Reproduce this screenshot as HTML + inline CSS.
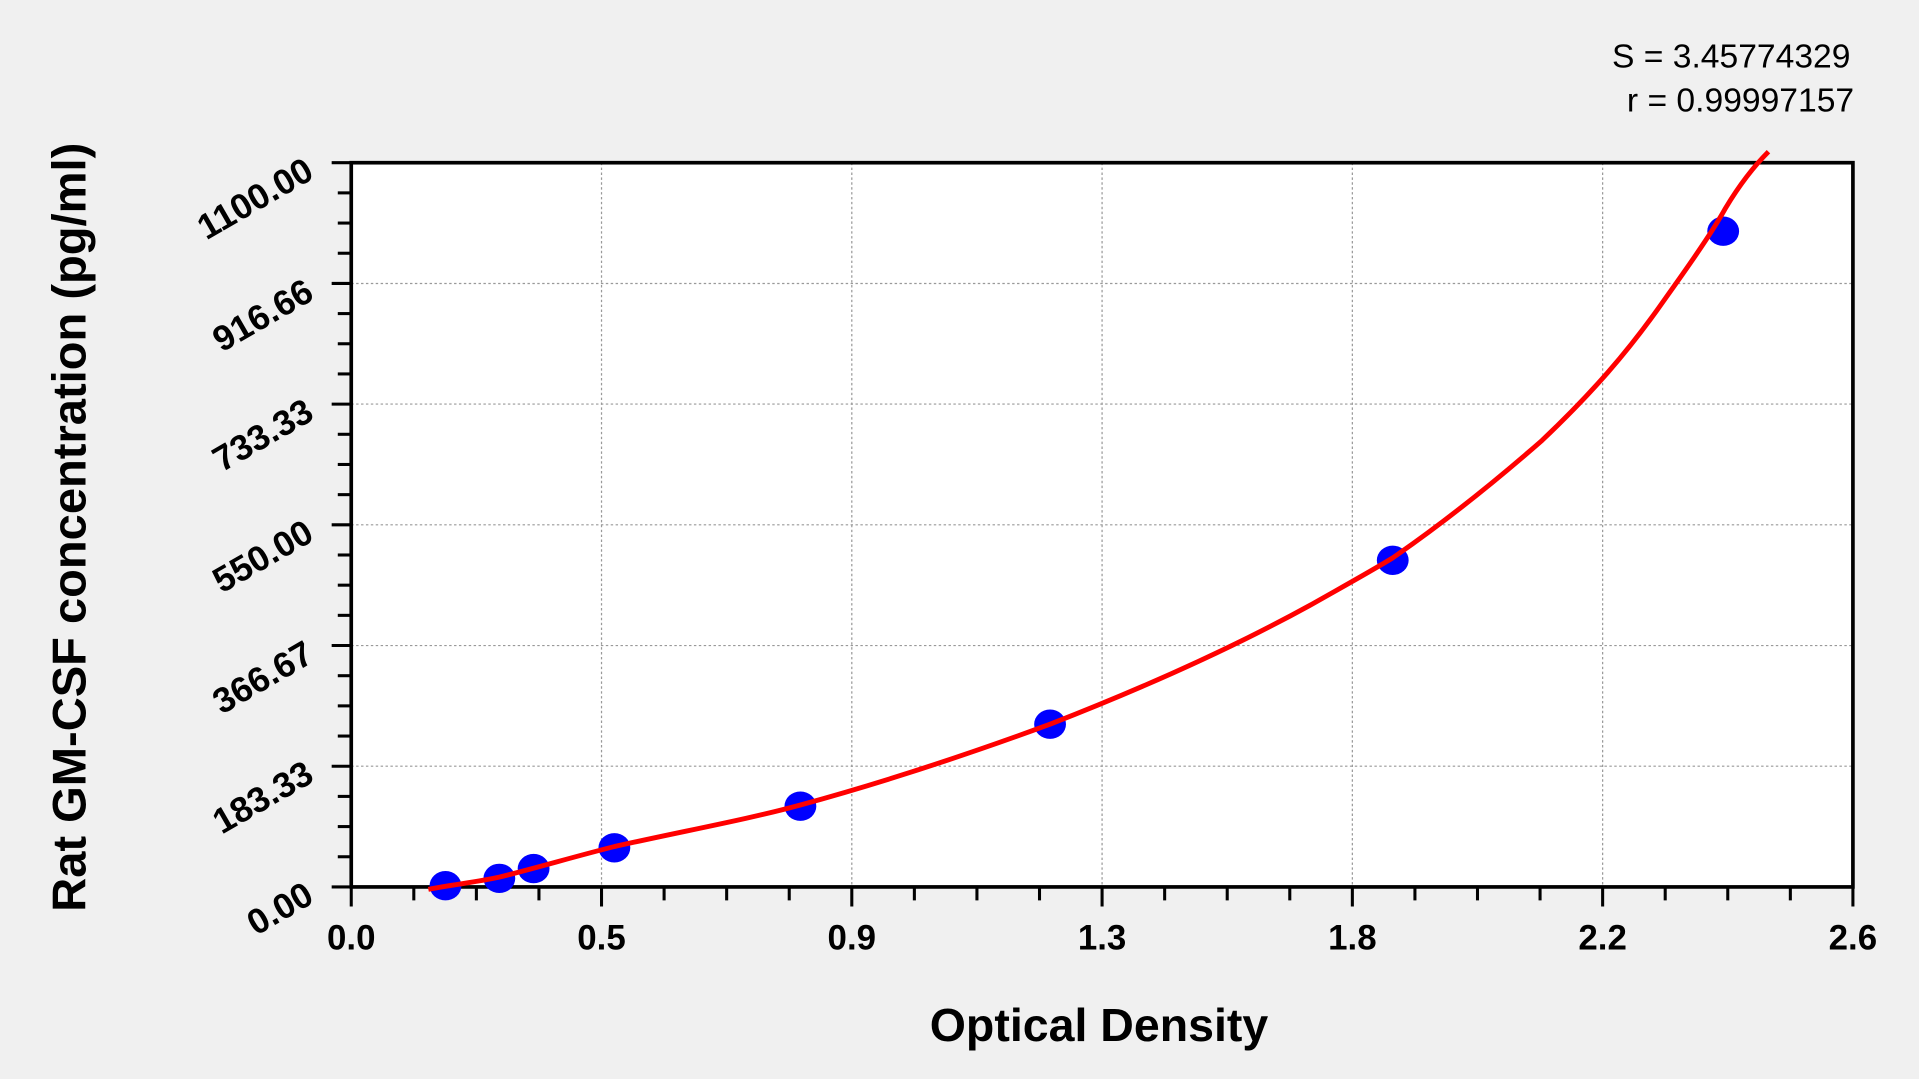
<!DOCTYPE html>
<html><head><meta charset="utf-8"><style>
html,body{margin:0;padding:0;background:#f0f0f0;overflow:hidden}
svg{display:block}
text{font-family:"Liberation Sans",Arial,sans-serif;fill:#000}
</style></head><body>
<svg width="1919" height="1079" viewBox="0 0 1568 882" preserveAspectRatio="none" xmlns="http://www.w3.org/2000/svg">
<rect x="0" y="0" width="1568" height="882" fill="#f0f0f0"/>
<rect x="287" y="133" width="1227" height="592" fill="#fff"/>
<g stroke="#999" stroke-width="1" stroke-dasharray="2,2">
<line x1="491.5" y1="133" x2="491.5" y2="725"/>
<line x1="696" y1="133" x2="696" y2="725"/>
<line x1="900.5" y1="133" x2="900.5" y2="725"/>
<line x1="1105" y1="133" x2="1105" y2="725"/>
<line x1="1309.5" y1="133" x2="1309.5" y2="725"/>
<line x1="287" y1="626.3" x2="1514" y2="626.3"/>
<line x1="287" y1="527.7" x2="1514" y2="527.7"/>
<line x1="287" y1="429" x2="1514" y2="429"/>
<line x1="287" y1="330.3" x2="1514" y2="330.3"/>
<line x1="287" y1="231.7" x2="1514" y2="231.7"/>
</g>
<g stroke="#000" stroke-width="3" fill="none">
<rect x="287" y="133" width="1227" height="592"/>
</g>
<g id="ticks" stroke="#000" stroke-width="2.5"></g>
<g fill="#0000ff">
<ellipse cx="364" cy="724" rx="13" ry="12"/>
<ellipse cx="408" cy="718" rx="13" ry="12"/>
<ellipse cx="436" cy="710" rx="13" ry="12"/>
<ellipse cx="502" cy="693" rx="13" ry="12"/>
<ellipse cx="654" cy="659" rx="13" ry="12"/>
<ellipse cx="858" cy="592" rx="13" ry="12"/>
<ellipse cx="1138" cy="458" rx="13" ry="12"/>
<ellipse cx="1408" cy="189" rx="13" ry="12"/>
</g>
<path d="M350,727 C370,723 390,721 408,717 C440,709 470,700 502,692 C560,679 610,670 654,658 C720,640 790,617 858,592 C940,560 1010,528 1070,495 C1100,478 1120,467 1138,456 C1180,427 1220,395 1260,360 C1300,322 1330,288 1360,245 C1385,210 1400,188 1410,170 C1425,145 1437,132 1445,124" stroke="#ff0000" stroke-width="4" fill="none"/>
<g font-size="28.5" font-weight="bold" text-anchor="middle">
<text x="287" y="776">0.0</text>
<text x="491.5" y="776">0.5</text>
<text x="696" y="776">0.9</text>
<text x="900.5" y="776">1.3</text>
<text x="1105" y="776">1.8</text>
<text x="1309.5" y="776">2.2</text>
<text x="1514" y="776">2.6</text>
</g>
<g font-size="29" font-weight="bold" text-anchor="end">
<text transform="translate(258,737) rotate(-30)">0.00</text>
<text transform="translate(258,638) rotate(-30)">183.33</text>
<text transform="translate(258,540) rotate(-30)">366.67</text>
<text transform="translate(258,441) rotate(-30)">550.00</text>
<text transform="translate(258,342) rotate(-30)">733.33</text>
<text transform="translate(258,244) rotate(-30)">916.66</text>
<text transform="translate(258,145) rotate(-30)">1100.00</text>
</g>
<text x="898" y="851" font-size="38" font-weight="bold" text-anchor="middle">Optical Density</text>
<text transform="translate(70,431) rotate(-90)" font-size="38.5" font-weight="bold" text-anchor="middle">Rat GM-CSF concentration (pg/ml)</text>
<text x="1512" y="55" font-size="27.5" text-anchor="end">S = 3.45774329</text>
<text x="1515" y="91" font-size="27.5" text-anchor="end">r = 0.99997157</text>
</svg>
<script>
var g=document.getElementById('ticks'),s='';
for(var i=0;i<=24;i++){var x=287+i*1227/24,maj=i%4==0;s+='<line x1="'+x+'" y1="725" x2="'+x+'" y2="'+(maj?741:736)+'"/>';}
for(var j=0;j<=24;j++){var y=725-j*592/24,maj=j%4==0;s+='<line x1="287" y1="'+y+'" x2="'+(maj?271:276)+'" y2="'+y+'"/>';}
g.innerHTML=s;
</script>
</body></html>
